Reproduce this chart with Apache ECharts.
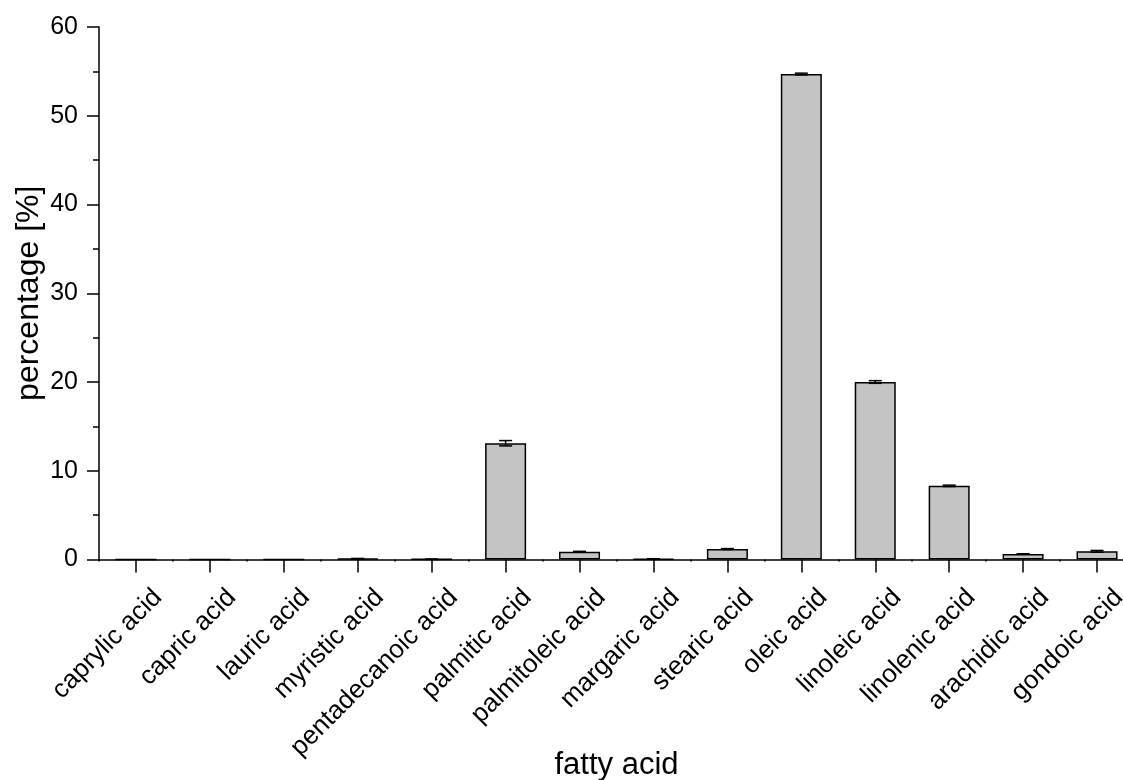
<!DOCTYPE html>
<html>
<head>
<meta charset="utf-8">
<script src="https://cdn.jsdelivr.net/npm/echarts@6/dist/echarts.min.js"></script>
<style>html,body{margin:0;padding:0;background:#fff;}#c{width:1123px;height:780px;}</style>
</head>
<body>
<div id="c"></div>
<script>
var categories = ['caprylic acid','capric acid','lauric acid','myristic acid','pentadecanoic acid','palmitic acid','palmitoleic acid','margaric acid','stearic acid','oleic acid','linoleic acid','linolenic acid','arachidic acid','gondoic acid'];
var values = [0, 0, 0, 0.1, 0.03, 13.1, 0.87, 0.07, 1.18, 54.7, 20.0, 8.3, 0.62, 0.92];
var errors = [0, 0, 0, 0.02, 0.01, 0.3, 0.05, 0.02, 0.05, 0.1, 0.15, 0.08, 0.03, 0.1];
var yTicks = [0, 10, 20, 30, 40, 50, 60];

var FONT = 'Liberation Sans, Arial, sans-serif';
var chart = echarts.init(document.getElementById('c'));
var errData = values.map(function (v, i) { return [i, v, errors[i]]; });

chart.setOption({
  animation: false,
  backgroundColor: '#fff',
  grid: { left: 99, top: 27, width: 1035, bottom: 220.5, containLabel: false, outerBoundsMode: 'none' },
  xAxis: [{
    type: 'category',
    data: categories,
    position: 'bottom',
    axisLine: { show: true, onZero: false, lineStyle: { color: '#000', width: 1.5 } },
    axisTick: { show: true, alignWithLabel: true, interval: 0, length: 13, lineStyle: { color: '#000', width: 1.5 } },
    axisLabel: { rotate: 45, margin: 12, verticalAlign: 'top', lineHeight: 62, color: '#000', fontSize: 26, fontFamily: FONT, interval: 0, hideOverlap: false },
    name: 'fatty acid',
    nameLocation: 'middle',
    nameGap: 190,
    nameMoveOverlap: false,
    nameTextStyle: { color: '#000', fontSize: 31, fontFamily: FONT }
  }, {
    type: 'category',
    data: categories,
    position: 'bottom',
    axisLine: { show: false, onZero: false },
    axisTick: { show: true, interval: 0, length: 2, lineStyle: { color: '#000', width: 1.5 } },
    axisLabel: { show: false }
  }],
  yAxis: {
    type: 'value',
    min: yTicks[0],
    max: yTicks[yTicks.length - 1],
    interval: 10,
    axisLine: { show: true, lineStyle: { color: '#000', width: 1.5 } },
    axisTick: { show: true, length: 12, lineStyle: { color: '#000', width: 1.5 } },
    minorTick: { show: true, splitNumber: 2, length: 6, lineStyle: { color: '#000', width: 1.5 } },
    splitLine: { show: false },
    axisLabel: { color: '#000', fontSize: 25, fontFamily: FONT, margin: 21 },
    name: 'percentage [%]',
    nameLocation: 'middle',
    nameGap: 54,
    nameMoveOverlap: false,
    nameTextStyle: { color: '#000', fontSize: 32, fontFamily: FONT }
  },
  series: [{
    type: 'bar',
    data: values,
    barWidth: '55.5%',
    itemStyle: { color: '#c4c4c4', borderColor: '#000', borderWidth: 1.5 }
  }, {
    type: 'custom',
    data: errData,
    z: 10,
    renderItem: function (params, api) {
      var i = api.value(0), v = api.value(1), e = api.value(2);
      if (v <= 0) return null;
      var hi = api.coord([i, v + e]);
      var lo = api.coord([i, v - e]);
      var w = 6.5;
      var style = { stroke: '#000', lineWidth: 1.5 };
      return {
        type: 'group',
        children: [
          { type: 'line', shape: { x1: hi[0], y1: hi[1], x2: lo[0], y2: lo[1] }, style: style },
          { type: 'line', shape: { x1: hi[0] - w, y1: hi[1], x2: hi[0] + w, y2: hi[1] }, style: style },
          { type: 'line', shape: { x1: lo[0] - w, y1: lo[1], x2: lo[0] + w, y2: lo[1] }, style: style }
        ]
      };
    }
  }]
});
</script>
</body>
</html>
